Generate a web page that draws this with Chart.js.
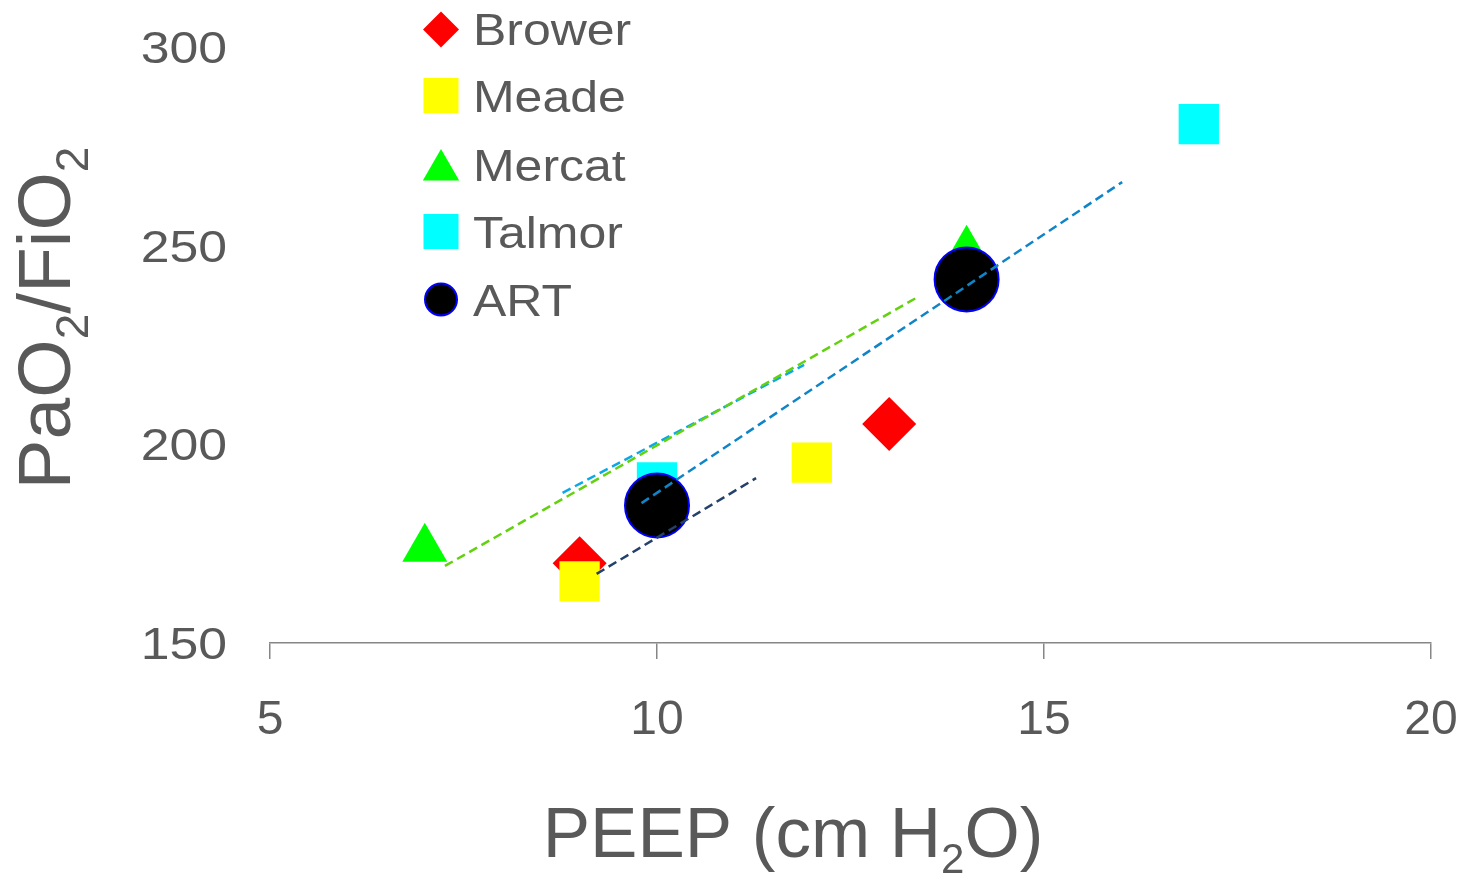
<!DOCTYPE html>
<html>
<head>
<meta charset="utf-8">
<script src="https://cdn.jsdelivr.net/npm/chart.js@4/dist/chart.umd.min.js"></script>
<style>
  html, body { margin: 0; padding: 0; background: #ffffff; }
  #wrap { width: 1465px; height: 875px; position: relative; }
</style>
</head>
<body>
<div id="wrap"><canvas id="c" width="1465" height="875"></canvas></div>
<script>
const FONT = '"Liberation Sans", Arial, Helvetica, sans-serif';
const TEXT_COLOR = '#595959';
const AXIS_COLOR = '#868686';

// Axis ranges / tick labels
const xTickValues = [5, 10, 15, 20];
const yTickValues = [150, 200, 250, 300];

// Study series: PEEP (cm H2O) vs PaO2/FiO2
const seriesNames = ['Brower', 'Meade', 'Mercat', 'Talmor', 'ART'];
const browerPeep = [9, 13];
const browerRatio = [170.1, 205.1];
const meadePeep = [9, 12];
const meadeRatio = [165.5, 195.4];
const mercatPeep = [7, 14];
const mercatRatio = [173.7, 248.7];
const talmorPeep = [10, 17];
const talmorRatio = [190.4, 280.6];
const artPeep = [10, 14];
const artRatio = [184.6, 241.5];

// Dashed trend segments (start/end)
const trendGreenPeep = [7.26, 13.39];
const trendGreenRatio = [169.4, 237.3];
const trendLightBluePeep = [8.78, 11.90];
const trendLightBlueRatio = [187.8, 220.0];
const trendBluePeep = [9.80, 16.01];
const trendBlueRatio = [185.2, 266.0];
const trendNavyPeep = [9.22, 11.28];
const trendNavyRatio = [167.4, 191.5];

const toPoints = (xs, ys) => xs.map((x, i) => ({ x: x, y: ys[i] }));

const trend = (xs, ys, color) => ({
  label: '',
  data: toPoints(xs, ys),
  showLine: true,
  borderColor: color,
  borderWidth: 2.5,
  borderDash: [9, 5],
  pointRadius: 0,
  fill: false,
  order: 0
});

const datasets = [
  trend(trendGreenPeep, trendGreenRatio, '#62D10E'),
  trend(trendLightBluePeep, trendLightBlueRatio, '#0AA8E8'),
  trend(trendBluePeep, trendBlueRatio, '#0F84C6'),
  trend(trendNavyPeep, trendNavyRatio, '#24406C'),
  { label: seriesNames[4], data: toPoints(artPeep, artRatio), pointStyle: 'circle', pointRadius: 32,
    backgroundColor: '#000000', borderColor: '#0000FF', pointBorderWidth: 2, order: 1 },
  { label: seriesNames[1], data: toPoints(meadePeep, meadeRatio), pointStyle: 'rect', pointRadius: 28.5,
    backgroundColor: '#FFFF00', borderColor: '#FFFF00', pointBorderWidth: 0, order: 2 },
  { label: seriesNames[0], data: toPoints(browerPeep, browerRatio), pointStyle: 'rectRot', pointRadius: 27,
    backgroundColor: '#FF0000', borderColor: '#FF0000', pointBorderWidth: 0, order: 3 },
  { label: seriesNames[3], data: toPoints(talmorPeep, talmorRatio), pointStyle: 'rect', pointRadius: 28.5,
    backgroundColor: '#00FFFF', borderColor: '#00FFFF', pointBorderWidth: 0, order: 4 },
  { label: seriesNames[2], data: toPoints(mercatPeep, mercatRatio), pointStyle: 'triangle', pointRadius: 26,
    backgroundColor: '#00FF00', borderColor: '#00FF00', pointBorderWidth: 0, order: 5 }
];

// Legend entries drawn in the upper-left of the plot
const legendItems = [
  { name: 'Brower', shape: 'diamond', fill: '#FF0000', stroke: null },
  { name: 'Meade', shape: 'square', fill: '#FFFF00', stroke: null },
  { name: 'Mercat', shape: 'triangle', fill: '#00FF00', stroke: null },
  { name: 'Talmor', shape: 'square', fill: '#00FFFF', stroke: null },
  { name: 'ART', shape: 'circle', fill: '#000000', stroke: '#0000FF' }
];

function drawMarker(ctx, shape, x, y, fill, stroke) {
  ctx.save();
  ctx.beginPath();
  if (shape === 'diamond') {
    const r = 18;
    ctx.moveTo(x, y - r); ctx.lineTo(x + r, y); ctx.lineTo(x, y + r); ctx.lineTo(x - r, y);
    ctx.closePath();
  } else if (shape === 'square') {
    ctx.rect(x - 17.5, y - 17.5, 35, 35);
  } else if (shape === 'triangle') {
    const r = 21;
    ctx.moveTo(x, y - r);
    ctx.lineTo(x + r * Math.sin(Math.PI * 2 / 3), y - r * Math.cos(Math.PI * 2 / 3));
    ctx.lineTo(x + r * Math.sin(Math.PI * 4 / 3), y - r * Math.cos(Math.PI * 4 / 3));
    ctx.closePath();
  } else {
    ctx.arc(x, y, 16, 0, Math.PI * 2);
  }
  ctx.fillStyle = fill;
  ctx.fill();
  if (stroke) { ctx.lineWidth = 2; ctx.strokeStyle = stroke; ctx.stroke(); }
  ctx.restore();
}

// Draws text made of normal and subscript parts, centred on (0,0) baseline
function drawSubText(ctx, parts, size, subSize, subDrop) {
  let total = 0;
  parts.forEach(p => {
    ctx.font = (p.sub ? subSize : size) + 'px ' + FONT;
    p.w = ctx.measureText(p.t).width;
    total += p.w;
  });
  let x = -total / 2;
  parts.forEach(p => {
    ctx.font = (p.sub ? subSize : size) + 'px ' + FONT;
    ctx.fillText(p.t, x, p.sub ? subDrop : 0);
    x += p.w;
  });
}

const decorPlugin = {
  id: 'decor',
  beforeDraw(chart) {
    const ctx = chart.ctx;
    ctx.save();
    ctx.fillStyle = '#ffffff';
    ctx.fillRect(0, 0, chart.width, chart.height);
    ctx.restore();
  },
  afterDraw(chart) {
    const ctx = chart.ctx;
    ctx.save();
    ctx.fillStyle = TEXT_COLOR;
    ctx.textAlign = 'left';
    ctx.textBaseline = 'alphabetic';

    // Y tick labels, placed from the y scale
    const ys = chart.scales.y;
    ctx.font = '45px ' + FONT;
    ctx.textAlign = 'right';
    yTickValues.forEach(v => {
      ctx.save();
      ctx.translate(227, ys.getPixelForValue(v) + 16);
      ctx.scale(1.15, 1);
      ctx.fillText(String(v), 0, 0);
      ctx.restore();
    });
    ctx.textAlign = 'left';

    // X axis title
    ctx.save();
    ctx.translate(793, 857);
    drawSubText(ctx, [{ t: 'PEEP (cm H' }, { t: '2', sub: true }, { t: 'O)' }], 71, 42, 16);
    ctx.restore();

    // Y axis title (rotated)
    ctx.save();
    ctx.translate(70, 318);
    ctx.rotate(-Math.PI / 2);
    drawSubText(ctx, [{ t: 'PaO' }, { t: '2', sub: true }, { t: '/FiO' }, { t: '2', sub: true }], 75, 46, 18);
    ctx.restore();

    // Legend
    const baselines = [45, 112, 181, 248, 316];
    const centers = [29.5, 95.5, 170, 231.5, 299.5];
    legendItems.forEach((it, i) => {
      drawMarker(ctx, it.shape, 441, centers[i], it.fill, it.stroke);
      ctx.save();
      ctx.fillStyle = TEXT_COLOR;
      ctx.font = '45px ' + FONT;
      ctx.translate(473, baselines[i]);
      ctx.scale(1.11, 1);
      ctx.fillText(it.name, 0, 0);
      ctx.restore();
    });
    ctx.restore();
  }
};

new Chart(document.getElementById('c'), {
  type: 'scatter',
  data: { datasets: datasets },
  options: {
    responsive: false,
    animation: false,
    events: [],
    layout: { padding: { top: 47, right: 33, left: 0, bottom: 0 } },
    plugins: {
      legend: { display: false },
      tooltip: { enabled: false },
      title: { display: false }
    },
    scales: {
      x: {
        type: 'linear',
        min: xTickValues[0],
        max: xTickValues[xTickValues.length - 1],
        afterBuildTicks: s => { s.ticks = xTickValues.map(v => ({ value: v })); },
        afterFit: s => { s.height = 232; s.paddingLeft = 0; s.paddingRight = 0; },
        ticks: { color: TEXT_COLOR, font: { family: FONT, size: 48 }, padding: 33, maxRotation: 0 },
        grid: { drawOnChartArea: false, drawTicks: true, tickLength: 16, color: AXIS_COLOR, lineWidth: 1.5 },
        border: { display: true, color: AXIS_COLOR, width: 1.5 }
      },
      y: {
        type: 'linear',
        min: yTickValues[0],
        max: yTickValues[yTickValues.length - 1],
        afterBuildTicks: s => { s.ticks = yTickValues.map(v => ({ value: v })); },
        afterFit: s => { s.width = 270; s.paddingTop = 0; s.paddingBottom = 0; },
        ticks: { display: false },
        grid: { display: false, drawTicks: false },
        border: { display: false }
      }
    }
  },
  plugins: [decorPlugin]
});
</script>
</body>
</html>
